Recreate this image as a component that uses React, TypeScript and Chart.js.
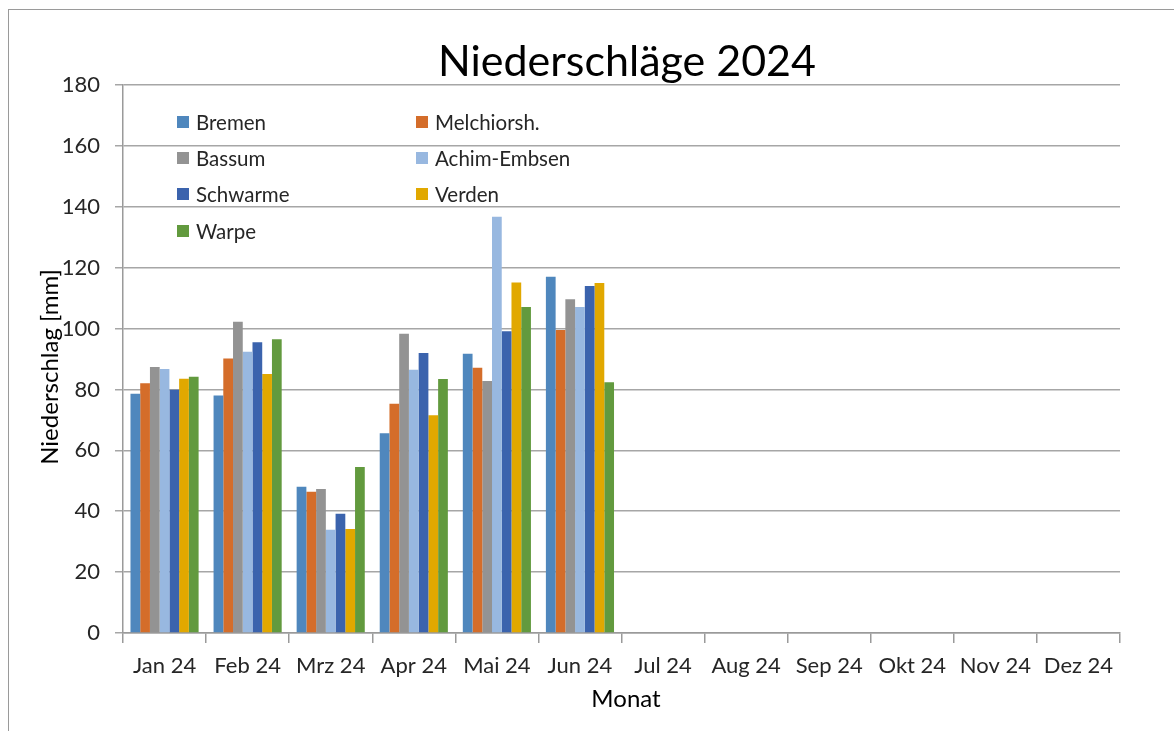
import React, { useEffect, useRef } from "react";
import { Chart, registerables } from "chart.js";

Chart.register(...registerables);

const months = ["Jan 24", "Feb 24", "Mrz 24", "Apr 24", "Mai 24", "Jun 24", "Jul 24", "Aug 24", "Sep 24", "Okt 24", "Nov 24", "Dez 24"];
const bremen = [78.6, 78.0, 48.0, 65.6, 91.7, 117.0, null, null, null, null, null, null];
const melchiorsh = [82.0, 90.2, 46.4, 75.3, 87.1, 99.5, null, null, null, null, null, null];
const bassum = [87.4, 102.2, 47.3, 98.3, 82.8, 109.6, null, null, null, null, null, null];
const achimEmbsen = [86.7, 92.4, 33.9, 86.5, 136.7, 107.1, null, null, null, null, null, null];
const schwarme = [79.9, 95.5, 39.2, 92.0, 99.1, 114.0, null, null, null, null, null, null];
const verden = [83.5, 85.1, 34.2, 71.5, 115.1, 115.0, null, null, null, null, null, null];
const warpe = [84.2, 96.5, 54.5, 83.4, 107.1, 82.4, null, null, null, null, null, null];

const seriesNames = ["Bremen", "Melchiorsh.", "Bassum", "Achim-Embsen", "Schwarme", "Verden", "Warpe"];
const seriesData = [bremen, melchiorsh, bassum, achimEmbsen, schwarme, verden, warpe];
const seriesColors = ["#4f87bd", "#d46d2a", "#939393", "#98b8e0", "#3b63ad", "#e1a800", "#629a3e"];

const FONT = "Lato, 'Open Sans', sans-serif";

const overlayPlugin = {
  id: "overlay",
  afterDraw(chart: any) {
    const ctx = chart.ctx;
    const area = chart.chartArea;
    ctx.save();
    // Title
    ctx.fillStyle = "#000000";
    ctx.font = `43px ${FONT}`;
    ctx.textAlign = "center";
    ctx.textBaseline = "middle";
    ctx.fillText("Niederschläge 2024", 627, 62);
    // X title
    ctx.font = `24px ${FONT}`;
    ctx.fillText("Monat", 626, 699);
    // Y title
    ctx.save();
    ctx.translate(50, 367);
    ctx.rotate(-Math.PI / 2);
    ctx.font = `24px ${FONT}`;
    ctx.fillText("Niederschlag [mm]", 0, 0);
    ctx.restore();
    // Legend inside plot
    const cols = [177, 416];
    const rows = [122, 158, 194, 231];
    ctx.font = `20.5px ${FONT}`;
    ctx.textAlign = "left";
    chart.data.datasets.forEach((ds: any, i: number) => {
      const x = cols[i % 2];
      const y = rows[Math.floor(i / 2)];
      ctx.fillStyle = ds.backgroundColor;
      ctx.fillRect(x, y - 6, 12, 12);
      ctx.fillStyle = "#262626";
      ctx.fillText(ds.label, x + 19, y + 1);
    });
    ctx.restore();
  },
};

export default function App() {
  const ref = useRef<HTMLCanvasElement | null>(null);
  useEffect(() => {
    if (!ref.current) return;
    const chart = new Chart(ref.current, {
      type: "bar",
      data: {
        labels: months,
        datasets: seriesNames.map((name, i) => ({
          label: name,
          data: seriesData[i],
          backgroundColor: seriesColors[i],
          borderWidth: 0,
          barPercentage: 1,
          categoryPercentage: 0.82,
        })),
      },
      options: {
        animation: false,
        responsive: false,
        maintainAspectRatio: false,
        layout: { padding: { left: 0, top: 85, right: 54, bottom: 0 } },
        plugins: {
          legend: { display: false },
          title: { display: false },
          tooltip: { enabled: false },
        },
        scales: {
          x: {
            offset: true,
            afterFit: (scale: any) => {
              scale.height = 98;
            },
            grid: {
              display: true,
              offset: true,
              drawOnChartArea: false,
              drawTicks: true,
              tickLength: 10,
              color: "#9a9a9a",
              lineWidth: 1.5,
            },
            border: { display: true, color: "#9a9a9a", width: 1.5 },
            ticks: {
              color: "#262626",
              font: { family: FONT, size: 22 },
              padding: 10,
              maxRotation: 0,
              autoSkip: false,
            },
          },
          y: {
            min: 0,
            max: 180,
            afterFit: (scale: any) => {
              scale.width = 123;
            },
            grid: {
              color: "#a6a6a6",
              lineWidth: 1.5,
              drawTicks: true,
              tickLength: 8,
            },
            border: { display: true, color: "#9a9a9a", width: 1.5 },
            ticks: {
              stepSize: 20,
              color: "#262626",
              font: { family: FONT, size: 22 },
              padding: 15,
            },
          },
        },
      },
      plugins: [overlayPlugin],
    } as any);
    return () => chart.destroy();
  }, []);
  return (
    <div style={{ position: "absolute", left: 0, top: 0, width: 1174, height: 731, background: "#ffffff" }}>
      <div
        style={{
          position: "absolute",
          left: 8,
          top: 9,
          width: 1166,
          height: 722,
          borderTop: "1.5px solid #9a9a9a",
          borderLeft: "1.5px solid #9a9a9a",
          boxSizing: "border-box",
        }}
      />
      <canvas ref={ref} width={1174} height={731} style={{ position: "absolute", left: 0, top: 0 }} />
    </div>
  );
}
